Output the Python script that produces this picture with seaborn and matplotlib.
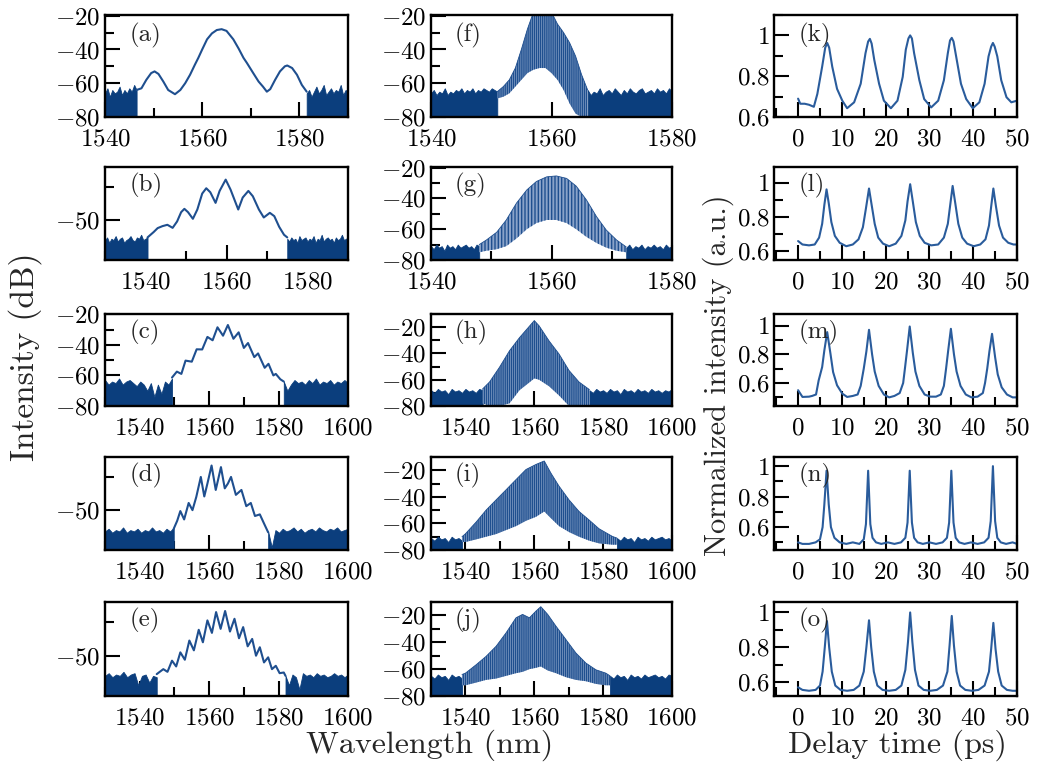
import numpy as np
import matplotlib
matplotlib.use('Agg')
import matplotlib.pyplot as plt
from matplotlib.ticker import MultipleLocator, FuncFormatter
import seaborn as sns

# ---------------- data ----------------
# column 1: spectra (wavelength nm, dB); noise floors given as top-of-noise samples
a_x = [1546.5, 1547.5, 1548.5, 1549.5, 1550.2, 1551, 1552, 1553, 1554.4, 1555.5, 1556.5, 1557.5,
       1558.5, 1559.2, 1560, 1561, 1562, 1563, 1564, 1565, 1566.4, 1567.5, 1568.5, 1569.2, 1570.5,
       1571.6, 1572.5, 1573.3, 1574, 1575, 1576, 1577, 1577.5, 1578.5, 1579.5, 1580.5, 1581.5]
a_y = [-64, -63, -58, -54, -53, -54.5, -59, -64, -66.5, -64, -60, -55, -49, -45, -40, -34, -30.5,
       -28.5, -28, -29, -34, -39.5, -45, -48, -54, -59, -62, -65, -63.5, -58, -53, -50, -49.5, -51,
       -55, -61, -65]
a_noise_l = [-66, -63, -68, -64, -66, -65, -62, -67, -64, -66, -63, -65, -61, -64]
a_noise_r = [-66, -64, -68, -65, -62, -66, -64, -61, -67, -65, -63, -66, -64, -65, -61, -67, -64, -65]

b_x = [1540.5, 1542, 1543, 1544.2, 1545.4, 1546.7, 1547.8, 1548.8, 1549.6, 1550.5, 1551.7, 1552.8,
       1554, 1555, 1556, 1557.3, 1558.3, 1559.8, 1561, 1562.9, 1564, 1565.4, 1566.5, 1568, 1569.2,
       1570.7, 1571.8, 1573, 1574.2, 1575]
b_y = [-63, -59, -56, -54.5, -53.5, -55.8, -51, -44, -41.5, -44, -49, -42, -30, -26, -29, -37, -28,
       -19.5, -27, -42, -33, -28, -32, -42, -48, -44.5, -47, -55, -61, -63]
b_noise_l = [-65, -63, -67, -64, -65, -62, -66, -64, -63, -67, -65, -64, -62, -65, -66, -63, -64,
             -61, -65, -64, -63]
b_noise_r = [-64, -66, -63, -65, -64, -67, -62, -65, -64, -63, -66, -64, -65, -62, -67, -64, -65,
             -61, -66, -64, -63, -65, -64, -67, -63, -65, -64, -61, -65, -64, -63]

c_x = [1549.3, 1550.7, 1552, 1553.2, 1555, 1556.4, 1558, 1559.5, 1561, 1562.4, 1564, 1565.4, 1567,
       1568.5, 1570, 1571.2, 1573, 1574.1, 1576, 1577.1, 1578.5, 1579.2, 1580.5, 1581.5]
c_y = [-61.4, -57.5, -59, -50.3, -51, -42.9, -43, -34.8, -37, -28.5, -34, -27, -36, -31.8, -42, -38.8,
       -48, -45.6, -55, -52.4, -60, -59, -62.5, -64]
c_noise_l = [-63, -66, -64, -65, -62, -66, -64, -63, -65, -67, -64, -66, -70, -65, -74, -66, -72,
             -64, -66, -62]
c_noise_r = [-64, -70, -66, -63, -65, -64, -66, -63, -65, -62, -66, -64, -65, -63, -66, -64, -65,
             -63, -65]

d_x = [1549.8, 1550.8, 1551.7, 1552.8, 1554.1, 1555.2, 1556.3, 1557.6, 1558.6, 1559.5, 1560.7,
       1561.9, 1562.5, 1563.4, 1564.5, 1565.4, 1566.3, 1567.7, 1569.3, 1570.7, 1572, 1573.2,
       1574.6, 1575.8, 1577]
d_y = [-64, -58, -50.7, -57, -44.6, -50, -40, -25, -39.7, -30, -16.4, -34.8, -28, -17.6, -33.6, -30,
       -25, -38.5, -34.8, -47, -44.6, -54.4, -53.2, -60, -66.7]
d_noise_l = [-66, -64, -67, -65, -66, -63, -67, -65, -66, -64, -67, -65, -66, -63, -66, -65, -67,
             -64, -66, -63]
d_noise_r = [-66, -78, -65, -67, -64, -66, -65, -63, -66, -64, -67, -65, -64, -66, -63, -65, -66,
             -64, -65, -63, -66, -65, -64]

e_x = [1544.9, 1546.8, 1548, 1549.3, 1550.5, 1551.7, 1553, 1554.3, 1555.6, 1557, 1558.2, 1559.5,
       1560.8, 1562, 1563.3, 1564.6, 1566, 1567.3, 1568.6, 1569.8, 1571.1, 1572.4, 1573.5, 1574.6,
       1575.8, 1577, 1578.1, 1579.2, 1580.3, 1581.5, 1582]
e_y = [-63.7, -60, -62, -53.7, -58, -47.5, -53, -38.7, -46, -30.7, -40, -23.7, -33, -17.5, -30, -16.7,
       -32, -22.5, -37, -28.7, -43, -37.5, -50, -43.7, -55, -51.2, -60, -57.5, -63, -62.5, -65]
e_noise_l = [-65, -63, -66, -64, -65, -62, -66, -64, -63, -72, -65, -64, -70, -65, -66]
e_noise_r = [-65, -72, -64, -66, -75, -63, -65, -64, -66, -63, -65, -64, -66, -65, -63, -65, -64, -66, -64]

# column 2: comb spectra, upper and lower envelopes of the comb lines
f_cx = [1551, 1552, 1553, 1554, 1555, 1556, 1557, 1558, 1559, 1560, 1561, 1562, 1563, 1564, 1565, 1566]
f_hi = [-65, -62, -58, -51, -40, -28, -18, -16, -16, -18, -25, -30, -36, -44, -55, -64]
f_lo = [-69, -68, -66, -62, -58, -54, -52, -51, -51, -54, -58, -64, -72, -78, -80, -80]
f_noise_l = [-66, -64, -67, -65, -66, -63, -67, -65, -66, -64, -65, -63, -66, -64, -65, -63, -66,
             -64, -65, -63, -64, -65, -63, -64, -65]
f_noise_r = [-64, -67, -65, -66, -63, -67, -65, -64, -66, -63, -65, -67, -64, -66, -63, -65, -66,
             -64, -63, -66, -65, -64, -66, -63, -65, -64, -66, -63, -65]

g_cx = [1548, 1549.2, 1550.9, 1552.5, 1554.2, 1555.9, 1557.5, 1559.2, 1560.8, 1562.5, 1564.1, 1565.8,
        1567.5, 1569.1, 1570.8, 1572.4]
g_hi = [-70, -67, -62, -54, -43, -34.5, -29, -26, -25.4, -27, -32, -41, -52, -60.6, -67, -71.5]
g_lo = [-75, -74, -73, -71, -66, -60, -56, -54, -54, -56, -60, -65, -69, -72, -74, -75]
g_noise_l = [-71, -73, -70, -72, -71, -74, -70, -72, -71, -73, -70, -72, -71, -70, -72, -71, -73, -70, -71]
g_noise_r = [-72, -70, -73, -71, -72, -70, -73, -71, -72, -70, -72, -71, -73, -70, -72, -71]

h_cx = [1545, 1547, 1549.9, 1552.8, 1555.7, 1558.6, 1560, 1561.4, 1564.3, 1567.2, 1570.1, 1573, 1576]
h_hi = [-67, -61.75, -50.5, -38, -28, -19.25, -15, -19, -30.5, -40.5, -53, -61.75, -67.5]
h_lo = [-78, -80, -80, -78, -68, -62, -59, -60, -65, -72, -80, -80, -80]
h_noise_l = [-68, -70, -67, -69, -68, -71, -67, -69, -68, -70, -67, -69, -68, -70, -67, -68]
h_noise_r = [-68, -70, -67, -69, -68, -70, -67, -69, -68, -71, -67, -69, -68, -70, -67, -69, -68, -70,
             -67, -69, -68, -70, -68, -69, -67]

i_cx = [1539, 1540, 1543.1, 1546, 1548.9, 1551.8, 1554.7, 1557.6, 1560.5, 1562.9, 1564.8, 1567.2,
        1570.1, 1573, 1576, 1578.8, 1582.7, 1584]
i_hi = [-70, -67.8, -59, -50, -42.3, -34.7, -27, -19.4, -15.6, -13, -22, -32, -42.3, -51, -57.6, -64,
        -69.8, -71]
i_lo = [-74, -74, -72, -70, -68, -65, -62, -58, -55, -51, -56, -62, -66.5, -70, -73, -75, -76, -76]
i_noise_l = [-71, -73, -70, -72, -71, -74, -70, -72, -71, -73]
i_noise_r = [-71, -73, -70, -72, -71, -74, -70, -72, -71, -73, -70, -72, -71, -70, -72, -71, -73]

j_cx = [1539, 1540, 1543.1, 1546, 1548.9, 1551.8, 1554.7, 1556.6, 1558.6, 1560.5, 1561.9, 1563.9,
        1566.3, 1569.2, 1572.1, 1575, 1577.9, 1580.8, 1582]
j_hi = [-64, -63, -56.75, -50.5, -43, -33, -21.75, -19.25, -21.75, -16.75, -13.5, -19.25, -28, -38,
        -48, -55.5, -60.5, -63, -65]
j_lo = [-72, -72, -70, -68, -67, -65, -63, -62, -60, -59, -58, -61, -63, -66, -68, -69, -71, -72, -72]
j_noise_l = [-65, -67, -64, -66, -65, -68, -64, -66, -65, -67]
j_noise_r = [-65, -67, -64, -66, -65, -68, -64, -66, -65, -67, -64, -66, -65, -64, -66, -65, -67, -64, -65]

# column 3: autocorrelation traces (delay ps, normalized intensity)
k_t = [0, 0.5, 1.5, 2.5, 3.6, 4.4, 5.5, 6.2, 6.65, 7.1, 7.8, 8.9, 10.1, 11.2, 12.8, 14.3, 15.4, 16.0,
       16.4, 16.8, 17.4, 18.5, 19.6, 21.2, 22.7, 23.9, 24.6, 25.2, 25.6, 26.0, 26.5, 27.7, 28.8, 30.4,
       32, 33.3, 34.2, 34.7, 35.1, 35.5, 36.1, 37.2, 38.4, 39.9, 41.4, 42.6, 43.5, 44.1, 44.5, 44.9,
       45.5, 46.4, 47.6, 48.7, 50]
k_v = [0.69, 0.665, 0.665, 0.66, 0.65, 0.713, 0.847, 0.94, 0.963, 0.94, 0.847, 0.738, 0.68, 0.643,
       0.672, 0.763, 0.913, 0.97, 0.983, 0.96, 0.88, 0.763, 0.68, 0.643, 0.68, 0.797, 0.93, 0.985,
       1.0, 0.985, 0.913, 0.78, 0.688, 0.647, 0.68, 0.78, 0.913, 0.975, 0.988, 0.97, 0.897, 0.763,
       0.688, 0.643, 0.672, 0.763, 0.897, 0.945, 0.963, 0.945, 0.897, 0.78, 0.697, 0.672, 0.68]

l_t = [0, 1, 2.5, 3.8, 4.8, 5.5, 6.0, 6.5, 7.0, 7.6, 8.4, 9.5, 11, 12.5, 13.8, 14.8, 15.5, 16.2, 16.8,
       17.5, 18.3, 19.4, 20.8, 22.3, 23.6, 24.5, 25.0, 25.6, 26.2, 26.9, 27.8, 28.9, 30.4, 32, 33.3,
       34.2, 34.8, 35.3, 35.9, 36.6, 37.5, 38.6, 40.1, 41.6, 42.8, 43.6, 44.1, 44.6, 45.2, 45.9, 46.8,
       48, 49.2, 50]
l_v = [0.66, 0.64, 0.635, 0.64, 0.68, 0.76, 0.87, 0.96, 0.88, 0.77, 0.69, 0.65, 0.63, 0.64, 0.67,
       0.74, 0.85, 0.965, 0.87, 0.76, 0.68, 0.645, 0.63, 0.645, 0.69, 0.78, 0.89, 0.99, 0.89, 0.77,
       0.69, 0.65, 0.635, 0.64, 0.68, 0.76, 0.88, 0.98, 0.88, 0.76, 0.68, 0.645, 0.63, 0.64, 0.67,
       0.75, 0.86, 0.965, 0.86, 0.75, 0.68, 0.65, 0.64, 0.64]

m_t = [0, 1, 2.5, 3.2, 4.1, 4.7, 5.5, 6.0, 6.65, 7.4, 8.0, 8.9, 10.1, 11.2, 12.5, 13.6, 14.3, 15.0,
       15.6, 16.2, 16.9, 17.5, 18.4, 19.6, 20.8, 22.0, 23.2, 24.0, 24.4, 24.9, 25.5, 26.2, 26.8, 27.7,
       28.9, 30.2, 31.5, 32.6, 33.3, 33.8, 34.3, 34.9, 35.6, 36.2, 37.1, 38.3, 39.6, 41.0, 42.2, 42.7,
       43.2, 43.7, 44.3, 45.0, 45.6, 46.5, 47.7, 49, 50]
m_v = [0.55, 0.503, 0.505, 0.51, 0.52, 0.618, 0.711, 0.827, 0.954, 0.803, 0.676, 0.584, 0.526, 0.503,
       0.51, 0.52, 0.58, 0.70, 0.82, 0.97, 0.80, 0.68, 0.58, 0.52, 0.50, 0.51, 0.53, 0.60, 0.70, 0.83,
       0.993, 0.81, 0.68, 0.58, 0.52, 0.505, 0.505, 0.52, 0.58, 0.70, 0.83, 0.977, 0.80, 0.68, 0.58,
       0.52, 0.50, 0.505, 0.53, 0.60, 0.70, 0.82, 0.942, 0.78, 0.66, 0.57, 0.52, 0.50, 0.50]

n_t = [0, 1, 2.5, 4, 5.0, 5.6, 6.0, 6.5, 7.0, 7.5, 8.3, 9.5, 11, 12.5, 14.0, 15.0, 15.5, 16.0, 16.5,
       17.0, 17.8, 19, 20.5, 22, 23.5, 24.5, 25.0, 25.5, 26.0, 26.5, 27.3, 28.5, 30, 31.5, 33, 34.0,
       34.5, 35.0, 35.5, 36.0, 36.8, 38, 39.5, 41, 42.5, 43.5, 44.0, 44.5, 45.0, 45.5, 46.3, 47.5, 49, 50]
n_v = [0.5, 0.49, 0.49, 0.5, 0.52, 0.6, 0.75, 0.97, 0.75, 0.6, 0.53, 0.5, 0.49, 0.5, 0.49, 0.52, 0.62,
       0.97, 0.62, 0.53, 0.5, 0.49, 0.5, 0.49, 0.5, 0.53, 0.63, 0.97, 0.63, 0.53, 0.5, 0.49, 0.5, 0.49,
       0.5, 0.53, 0.63, 0.97, 0.63, 0.53, 0.5, 0.49, 0.5, 0.49, 0.5, 0.53, 0.64, 1.0, 0.64, 0.53, 0.5,
       0.49, 0.5, 0.49]

o_t = [0, 1, 2.5, 4, 5.0, 5.6, 6.1, 6.6, 7.1, 7.7, 8.5, 9.7, 11.2, 12.7, 14.0, 15.0, 15.6, 16.2, 16.7,
       17.3, 18.1, 19.3, 20.8, 22.3, 23.6, 24.5, 25.1, 25.6, 26.1, 26.7, 27.5, 28.7, 30.2, 31.7, 33.1,
       34.1, 34.6, 35.1, 35.6, 36.2, 37.0, 38.2, 39.7, 41.2, 42.6, 43.6, 44.1, 44.6, 45.1, 45.7, 46.5,
       47.7, 49, 50]
o_v = [0.57, 0.555, 0.55, 0.555, 0.58, 0.66, 0.80, 0.95, 0.80, 0.66, 0.58, 0.555, 0.55, 0.555, 0.58,
       0.66, 0.80, 0.955, 0.80, 0.66, 0.58, 0.555, 0.55, 0.555, 0.58, 0.67, 0.83, 1.0, 0.83, 0.67,
       0.58, 0.555, 0.55, 0.555, 0.58, 0.66, 0.81, 0.98, 0.81, 0.66, 0.58, 0.555, 0.55, 0.555, 0.58,
       0.66, 0.79, 0.94, 0.79, 0.66, 0.58, 0.555, 0.55, 0.55]

# ---------------- style ----------------
sns.set_theme(style='ticks')
plt.rcParams.update({
    'font.family': 'serif',
    'font.serif': ['cmr10'],
    'mathtext.fontset': 'cm',
    'axes.formatter.use_mathtext': True,
    'axes.linewidth': 1.7,
    'axes.edgecolor': 'black',
    'axes.facecolor': 'white',
    'xtick.direction': 'in', 'ytick.direction': 'in',
    'xtick.major.size': 11, 'ytick.major.size': 11,
    'xtick.minor.size': 6.5, 'ytick.minor.size': 6.5,
    'xtick.major.width': 1.5, 'ytick.major.width': 1.5,
    'xtick.minor.width': 1.5, 'ytick.minor.width': 1.5,
    'xtick.major.pad': 8, 'ytick.major.pad': 3,
    'xtick.labelsize': 18, 'ytick.labelsize': 18,
    'xtick.color': 'black', 'ytick.color': 'black',
    'hatch.linewidth': 1.0,
})

LINE = '#1f4f8f'
NOISE = '#0b3e7d'
COMB = '#8aa3c9'

W, H = 1038, 769
fig = plt.figure(figsize=(W / 100, H / 100), dpi=100)

lefts = [105, 431, 774]
widths = [243, 241, 243]
rows = [(15, 117), (167, 260), (314, 406), (457, 550), (602, 696)]


def make_ax(col, row):
    top, bot = rows[row]
    return fig.add_axes([lefts[col] / W, 1 - bot / H, widths[col] / W, (bot - top) / H])


fmt = FuncFormatter(lambda v, p: f'${v:g}$')


def style(ax, xlim, ylim, xmaj, xmin, ymaj, ymin, label):
    ax.set_xlim(*xlim)
    ax.set_ylim(*ylim)
    ax.xaxis.set_major_locator(MultipleLocator(xmaj))
    ax.xaxis.set_minor_locator(MultipleLocator(xmin))
    ax.yaxis.set_major_locator(MultipleLocator(ymaj))
    ax.yaxis.set_minor_locator(MultipleLocator(ymin))
    ax.xaxis.set_major_formatter(fmt)
    ax.yaxis.set_major_formatter(fmt)
    ax.tick_params(which='both', top=False, right=False)
    ax.set_xlabel('')
    ax.set_ylabel('')
    for s in ax.spines.values():
        s.set_visible(True)
        s.set_linewidth(1.7)
        s.set_color('black')
    ax.text(0.1, 0.8, label, transform=ax.transAxes, fontsize=18, va='center', ha='left')


def noise(ax, x0, x1, tops, floor=-80):
    xs = np.linspace(x0, x1, len(tops))
    ax.fill_between(xs, floor, tops, color=NOISE, lw=0.6, edgecolor=NOISE)


# column 1
col1 = [
    ('(a)', a_x, a_y, a_noise_l, a_noise_r, (1540, 1590), (-80, -19.6), 20, 10),
    ('(b)', b_x, b_y, b_noise_l, b_noise_r, (1530, 1590), (-80, -10), 50, 25),
    ('(c)', c_x, c_y, c_noise_l, c_noise_r, (1530, 1600), (-80, -19.8), 20, 10),
    ('(d)', d_x, d_y, d_noise_l, d_noise_r, (1530, 1600), (-80, -10), 50, 25),
    ('(e)', e_x, e_y, e_noise_l, e_noise_r, (1530, 1600), (-80, -10), 50, 25),
]
for r, (lab, xs, ys, nl, nr, xl, yl, ymaj, ymin) in enumerate(col1):
    ax = make_ax(0, r)
    noise(ax, xl[0], xs[0], nl)
    noise(ax, xs[-1], xl[1], nr)
    sns.lineplot(x=xs, y=ys, ax=ax, color=LINE, lw=1.5, sort=False, estimator=None)
    style(ax, xl, yl, 20, 10, ymaj, ymin, lab)

# column 2
col2 = [
    ('(f)', f_cx, f_hi, f_lo, f_noise_l, f_noise_r, (1540, 1580), (-80, -19.6), '||||||||'),
    ('(g)', g_cx, g_hi, g_lo, g_noise_l, g_noise_r, (1540, 1580), (-80, -19.6), '|||||'),
    ('(h)', h_cx, h_hi, h_lo, h_noise_l, h_noise_r, (1530, 1600), (-80, -10), '||||||||'),
    ('(i)', i_cx, i_hi, i_lo, i_noise_l, i_noise_r, (1530, 1600), (-80, -10), '||||||||'),
    ('(j)', j_cx, j_hi, j_lo, j_noise_l, j_noise_r, (1530, 1600), (-80, -10), '||||||||'),
]
for r, (lab, cx, hi, lo, nl, nr, xl, yl, hatch) in enumerate(col2):
    ax = make_ax(1, r)
    noise(ax, xl[0], cx[0], nl)
    noise(ax, cx[-1], xl[1], nr)
    ax.fill_between(cx, lo, hi, facecolor=COMB, edgecolor=LINE, hatch=hatch, lw=0)
    sns.lineplot(x=cx, y=hi, ax=ax, color=LINE, lw=0.6, sort=False, estimator=None)
    style(ax, xl, yl, 20, 10, 20, 10, lab)

# column 3
col3 = [
    ('(k)', k_t, k_v, (0.6, 1.1)),
    ('(l)', l_t, l_v, (0.55, 1.09)),
    ('(m)', m_t, m_v, (0.44, 1.08)),
    ('(n)', n_t, n_v, (0.45, 1.06)),
    ('(o)', o_t, o_v, (0.52, 1.06)),
]
for r, (lab, ts, vs, yl) in enumerate(col3):
    ax = make_ax(2, r)
    sns.lineplot(x=ts, y=vs, ax=ax, color='#2a5c9c', lw=1.5, sort=False, estimator=None)
    style(ax, (-5.5, 50), yl, 10, 5, 0.2, 0.1, lab)
    ax.set_yticks([0.6, 0.8, 1.0])

fig.text(25 / W, 1 - 357 / H, 'Intensity (dB)', rotation=90, ha='center', va='center', fontsize=24)
fig.text(430 / W, 1 - 745 / H, 'Wavelength (nm)', ha='center', va='center', fontsize=23)
fig.text(718 / W, 1 - 375 / H, 'Normalized intensity (a.u.)', rotation=90, ha='center', va='center',
         fontsize=22)
fig.text(897 / W, 1 - 745 / H, 'Delay time (ps)', ha='center', va='center', fontsize=23)

fig.savefig('out.png', dpi=100)
